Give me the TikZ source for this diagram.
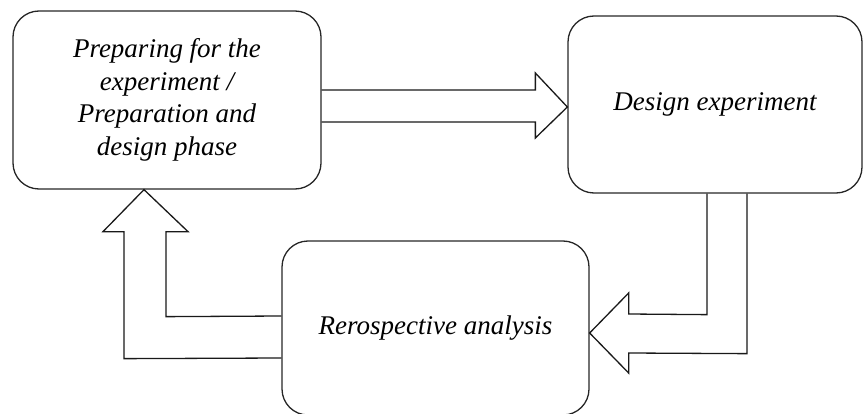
\documentclass[tikz,border=0pt]{standalone}
\usepackage{fontspec}
\setmainfont{Liberation Serif}
\usetikzlibrary{calc}
\begin{document}
\begin{tikzpicture}[x=1pt,y=-1pt,
  box/.style={draw=black!85, line width=1.3pt, rounded corners=26pt, align=center,
    font=\fontsize{27}{32.5}\selectfont\itshape, inner sep=0pt},
  blockarrow/.style={draw=black!90, line width=1.3pt, line join=miter}]
\useasboundingbox (0,0) rectangle (864,414);
\node[box, minimum width=308pt, minimum height=178pt] (A) at (167,100)
  {Preparing for the\\experiment /\\Preparation and\\design phase};
\node[box, minimum width=294pt, minimum height=177pt] (B) at (715,104.5)
  {Design experiment};
\node[box, minimum width=307pt, minimum height=174pt] (C) at (435.5,328)
  {Rerospective analysis};
% arrow A -> B
\draw[blockarrow] ($(A.east)+(0,-10)$) -- ($(B.west)+(-32,-14.5)$)
  -- ($(B.west)+(-32,-31.5)$) -- ($(B.west)+(0,2.5)$)
  -- ($(B.west)+(-32,33.5)$) -- ($(B.west)+(-32,17.5)$)
  -- ($(A.east)+(0,22)$);
% arrow B -> C
\draw[blockarrow] ($(B.south)+(-8,0)$) -- ($(B.south)+(-8,121)$)
  -- ($(C.east)+(39,-14)$) -- ($(C.east)+(39,-35)$)
  -- ($(C.east)+(0,5)$) -- ($(C.east)+(39,45)$)
  -- ($(C.east)+(39,25)$) -- ($(B.south)+(32,160)$)
  -- ($(B.south)+(32,0)$);
% arrow C -> A
\draw[blockarrow] ($(C.west)+(0,-12)$) -- ($(A.south)+(-1,127)$)
  -- ($(A.south)+(-1,42)$) -- ($(A.south)+(21,42)$)
  -- ($(A.south)+(-23,0)$) -- ($(A.south)+(-64,42)$)
  -- ($(A.south)+(-43,42)$) -- ($(A.south)+(-43,169)$)
  -- ($(C.west)+(0,30)$);
\end{tikzpicture}
\end{document}
